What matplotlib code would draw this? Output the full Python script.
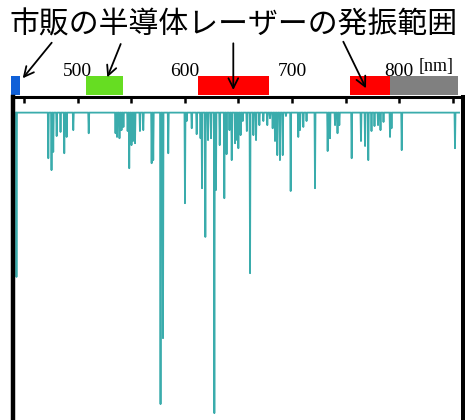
import matplotlib
matplotlib.use('Agg')
import matplotlib.pyplot as plt

# absorption lines: centre wavelength [nm] and transmittance at the line centre
line_nm = [443.0, 472.7, 475.7, 477.3, 480.5, 484.1, 487.6, 489.8, 496.0, 510.4,
           535.4, 536.8, 539.1, 541.0, 542.8, 546.7, 548.2, 550.3, 551.7, 553.6,
           558.2, 561.3, 569.1, 570.6, 577.4, 579.7, 584.6, 600.2, 601.8, 606.5,
           611.1, 614.7, 616.1, 619.2, 621.7, 624.5, 627.6, 629.1, 632.6, 636.9,
           639.0, 641.7, 643.8, 646.9, 648.8, 650.0, 652.1, 654.1, 657.9, 660.9,
           664.0, 666.5, 669.6, 673.3, 677.0, 679.5, 682.0, 684.2, 686.3, 688.8,
           691.4, 694.4, 698.8, 705.9, 707.5, 710.6, 713.6, 721.5, 733.3, 735.5,
           740.2, 742.5, 744.2, 755.7, 764.4, 768.2, 771.2, 774.2, 777.0, 780.3,
           782.6, 785.4, 791.5, 792.9, 802.4, 852.1]
line_T = [0.474, 0.854, 0.816, 0.874, 0.925, 0.938, 0.870, 0.922, 0.944, 0.934,
          0.934, 0.922, 0.918, 0.944, 0.954, 0.941, 0.822, 0.896, 0.909, 0.902,
          0.941, 0.944, 0.838, 0.848, 0.067, 0.278, 0.870, 0.710, 0.973, 0.950,
          0.931, 0.918, 0.758, 0.602, 0.912, 0.918, 0.038, 0.752, 0.896, 0.726,
          0.867, 0.944, 0.848, 0.902, 0.912, 0.886, 0.928, 0.973, 0.941, 0.486,
          0.928, 0.912, 0.960, 0.973, 0.960, 0.982, 0.950, 0.909, 0.864, 0.848,
          0.864, 0.989, 0.749, 0.922, 0.944, 0.954, 0.973, 0.758, 0.877, 0.918,
          0.960, 0.934, 0.960, 0.854, 0.909, 0.893, 0.848, 0.941, 0.957, 0.960,
          0.944, 0.970, 0.922, 0.950, 0.880, 0.886]
spec_end = 855.9

# commercial laser diode ranges [nm]
band_start = [438, 508, 612.5, 754, 791]
band_end = [446, 542, 679, 791, 855]
band_colors = ['#1060d8', '#66dd22', '#ff0000', '#ff0000', '#808080']

tick_nm = [450, 500, 550, 600, 650, 700, 750, 800, 850]
tick_labels = ['', '500', '', '600', '', '700', '', '800', '']

title = '市販の半導体レーザーの発振範囲'

fig = plt.figure(figsize=(4.65, 4.2), dpi=100)
ax = fig.add_axes([12.5 / 465, -5 / 420, 450 / 465, 328 / 420])

# each line as a narrow dip from the baseline
hw = 0.45
xs, ys = [], []
for c, t in zip(line_nm, line_T):
    xs += [c - hw, c, c + hw]
    ys += [1.0, t, 1.0]
xs.append(spec_end)
ys.append(1.0)
ax.plot(xs, ys, color='#3aacac', lw=1.3)

ax.set_xlim(439.3, 859.1)
ax.set_ylim(0, 1.05)
ax.xaxis.tick_top()
ax.set_xticks(tick_nm)
ax.set_xticklabels(tick_labels, fontfamily='Liberation Serif')
ax.tick_params(axis='x', direction='in', length=4.5, width=1.8, pad=12, labelsize=14)
ax.set_yticks([])
ax.spines['left'].set_linewidth(3.2)
ax.spines['right'].set_linewidth(2.9)
ax.spines['top'].set_linewidth(2.2)

for s, e, c in zip(band_start, band_end, band_colors):
    ax.axvspan(s, e, ymin=1.006, ymax=1.064, color=c, lw=0, clip_on=False)

fig.text(234 / 465, 1 - 25 / 420, title, ha='center', va='center', fontsize=21.5,
         family=['Noto Sans CJK JP', 'DejaVu Sans'])
fig.text(436 / 465, 1 - 66 / 420, '[nm]', ha='center', va='center', fontsize=13,
         family='Liberation Serif')

arrows = [((51.7, 42.7), (22.7, 78.3)),
          ((120.7, 44), (107.3, 77.3)),
          ((233.3, 43.3), (233.3, 90)),
          ((343.3, 41.7), (366, 88.3))]
for (x0, y0), (x1, y1) in arrows:
    ax.annotate('', xy=(x1, 420 - y1), xytext=(x0, 420 - y0),
                xycoords='figure pixels', textcoords='figure pixels',
                arrowprops=dict(arrowstyle='->,head_length=0.7,head_width=0.35',
                                lw=1.3, color='black', shrinkA=0, shrinkB=0))

fig.savefig('out.png', dpi=100)
